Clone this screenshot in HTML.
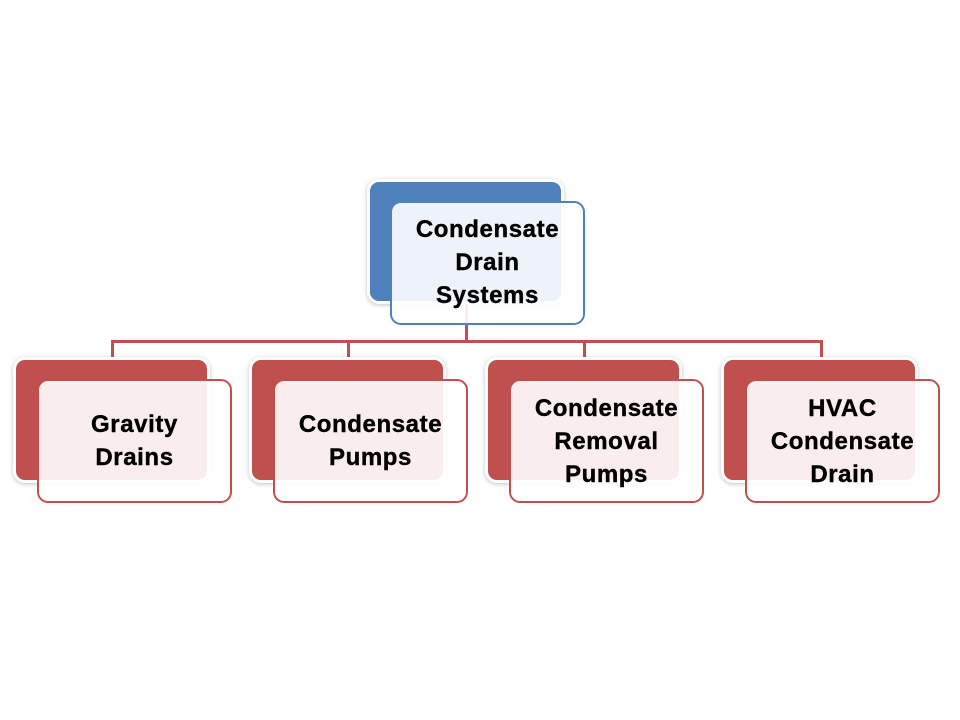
<!DOCTYPE html>
<html><head><meta charset="utf-8"><style>
body{margin:0;width:960px;height:720px;background:#fff;position:relative;overflow:hidden;font-family:"Liberation Sans",sans-serif}
.b{position:absolute;box-sizing:border-box;border:3px solid #fff;border-radius:12px;box-shadow:0 1px 4px rgba(0,0,0,0.25)}
.f{position:absolute;box-sizing:border-box;border:2.5px solid;border-radius:11px;background:rgba(255,255,255,0.9);display:flex;align-items:center;justify-content:center;text-align:center;font-weight:bold;font-size:24px;letter-spacing:0.6px;line-height:33px;color:#000;-webkit-text-stroke:0.4px #000}
.l{position:absolute;background:#C0504D}
</style></head><body>
<div class="l" style="left:465px;top:300px;width:3px;height:42px"></div>
<div class="l" style="left:111px;top:340px;width:712px;height:3px"></div>
<div class="l" style="left:111px;top:340px;width:3px;height:20px"></div>
<div class="l" style="left:347px;top:340px;width:3px;height:20px"></div>
<div class="l" style="left:583px;top:340px;width:3px;height:20px"></div>
<div class="l" style="left:820px;top:340px;width:3px;height:20px"></div>

<div class="b" style="left:367px;top:179px;width:197px;height:125px;background:#4F81BD"></div>
<div class="f" style="left:390px;top:201px;width:195px;height:124px;border-color:#4F81BD;padding-bottom:2px"><div>Condensate<br>Drain<br>Systems</div></div>

<div class="b" style="left:13px;top:357px;width:197px;height:126px;background:#C0504D"></div>
<div class="f" style="left:37px;top:379px;width:195px;height:124px;border-color:#C0504D"><div>Gravity<br>Drains</div></div>

<div class="b" style="left:249px;top:357px;width:197px;height:126px;background:#C0504D"></div>
<div class="f" style="left:273px;top:379px;width:195px;height:124px;border-color:#C0504D"><div>Condensate<br>Pumps</div></div>

<div class="b" style="left:485px;top:357px;width:197px;height:126px;background:#C0504D"></div>
<div class="f" style="left:509px;top:379px;width:195px;height:124px;border-color:#C0504D"><div>Condensate<br>Removal<br>Pumps</div></div>

<div class="b" style="left:721px;top:357px;width:197px;height:126px;background:#C0504D"></div>
<div class="f" style="left:745px;top:379px;width:195px;height:124px;border-color:#C0504D"><div>HVAC<br>Condensate<br>Drain</div></div>
</body></html>
